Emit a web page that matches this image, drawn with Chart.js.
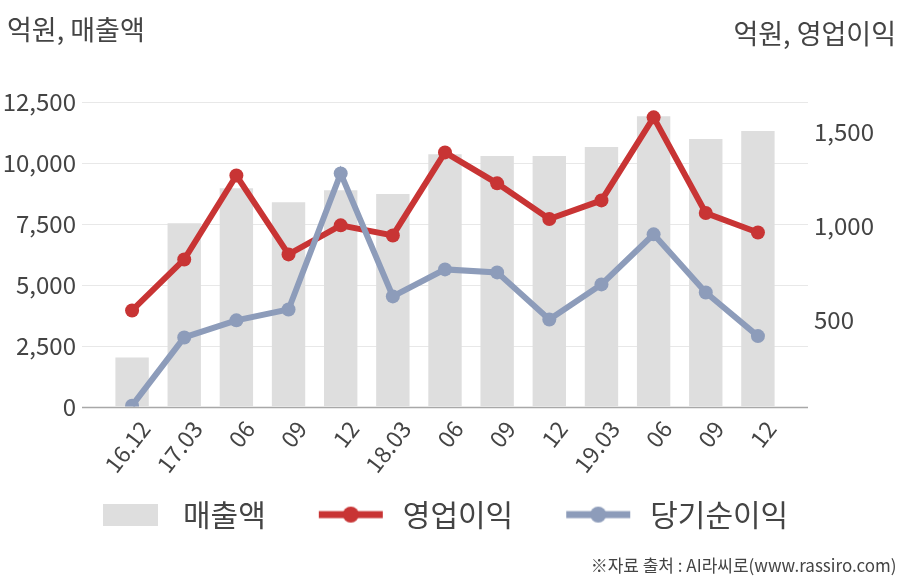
<!DOCTYPE html>
<html>
<head>
<meta charset="utf-8">
<script src="https://cdn.jsdelivr.net/npm/chart.js@4.4.1/dist/chart.umd.min.js"></script>
<style>
  html, body { margin: 0; padding: 0; background: #fff; }
  #wrap { width: 908px; height: 580px; }
</style>
</head>
<body>
<div id="wrap"><canvas id="finChart" width="908" height="580"></canvas></div>
<script>
// Quarter labels
const quarters = ['16.12', '17.03', '06', '09', '12', '18.03', '06', '09', '12', '19.03', '06', '09', '12'];

// 매출액 (left axis, 억원)
const sales = [2015, 7525, 8960, 8390, 8880, 8720, 10360, 10280, 10280, 10650, 11920, 10980, 11310];

// 영업이익 (right axis, 억원)
const opProfit = [548, 820, 1268, 847, 1002, 948, 1391, 1226, 1036, 1135, 1578, 1068, 964];

// 당기순이익 (right axis, 억원)
const netProfit = [40, 404, 495, 553, 1279, 623, 767, 751, 500, 687, 954, 644, 411];

// Right axis tick labels
const rightTicks = [500, 1000, 1500];

const FONT = "'Noto Sans CJK KR', 'Noto Sans', sans-serif";
const TEXT = '#444';
const BAR_COLOR = '#dedede';
const RED = '#c83434';
const BLUE = '#8d9cba';

// legend markers: each image is as wide as the legend box, marker sits at its right end
const MARK_W = 112;
function lineMarker(color) {
    const c = document.createElement('canvas');
    c.width = MARK_W; c.height = 20;
    const g = c.getContext('2d');
    const x0 = MARK_W - 5 - 64;
    g.strokeStyle = color;
    g.lineWidth = 7;
    g.beginPath(); g.moveTo(x0, 10); g.lineTo(x0 + 64, 10); g.stroke();
    g.fillStyle = color;
    g.beginPath(); g.arc(x0 + 32, 10, 8, 0, Math.PI * 2); g.fill();
    return c;
}
function boxMarker(color) {
    const c = document.createElement('canvas');
    c.width = MARK_W; c.height = 22;
    const g = c.getContext('2d');
    g.fillStyle = color;
    g.fillRect(MARK_W - 10 - 55, 0, 55, 22);
    return c;
}
const markers = [boxMarker(BAR_COLOR), lineMarker(RED), lineMarker(BLUE)];

// horizontal grid lines that run a bit past the plot on both sides
const wideGrid = {
    id: 'wideGrid',
    beforeDatasetsDraw(chart) {
        const { ctx, chartArea, scales } = chart;
        const ext = 24;
        ctx.save();
        scales.y.ticks.forEach(t => {
            const y = Math.round(scales.y.getPixelForValue(t.value)) + 0.5;
            ctx.strokeStyle = t.value === 0 ? '#a8a8a8' : '#e8e8e8';
            ctx.lineWidth = t.value === 0 ? 1.5 : 1;
            ctx.beginPath();
            ctx.moveTo(chartArea.left - ext, y);
            ctx.lineTo(chartArea.right + ext, y);
            ctx.stroke();
        });
        ctx.restore();
    }
};

// nudge the legend row so the first marker starts under the plot
const legendShift = {
    id: 'legendShift',
    afterLayout(chart) {
        const lg = chart.legend;
        if (!lg) return;
        const dx = 103 - (lg.left + 10 + (MARK_W - 65));
        lg.left += dx;
        lg.right += dx;
    }
};

// unit captions in the top corners
const unitText = {
    id: 'unitText',
    afterDraw(chart) {
        const { ctx } = chart;
        ctx.save();
        ctx.fillStyle = TEXT;
        ctx.font = '27px ' + FONT;
        ctx.textBaseline = 'middle';
        ctx.textAlign = 'left';
        ctx.fillText('억원, 매출액', 7, 30);
        ctx.textAlign = 'right';
        ctx.fillText('억원, 영업이익', 896, 34);
        ctx.restore();
    }
};

const ctx = document.getElementById('finChart').getContext('2d');

const data = {
    labels: quarters,
    datasets: [
        {
            type: 'bar',
            label: '매출액',
            data: sales,
            yAxisID: 'y',
            backgroundColor: BAR_COLOR,
            barPercentage: 0.64,
            categoryPercentage: 1.0,
            order: 2
        },
        {
            type: 'line',
            label: '영업이익',
            data: opProfit,
            yAxisID: 'y1',
            borderColor: RED,
            backgroundColor: RED,
            borderWidth: 6,
            pointRadius: 7,
            pointBackgroundColor: RED,
            pointBorderWidth: 0,
            tension: 0,
            order: 1
        },
        {
            type: 'line',
            label: '당기순이익',
            data: netProfit,
            yAxisID: 'y1',
            borderColor: BLUE,
            backgroundColor: BLUE,
            borderWidth: 6,
            pointRadius: 7,
            pointBackgroundColor: BLUE,
            pointBorderWidth: 0,
            tension: 0,
            order: 0
        }
    ]
};

const config = {
    data: data,
    options: {
        responsive: false,
        animation: false,
        layout: {
            padding: { top: 102, left: 0, right: 0, bottom: 4 }
        },
        scales: {
            x: {
                grid: { display: false, drawTicks: false },
                border: { display: false },
                ticks: {
                    color: TEXT,
                    font: { family: FONT, size: 23 },
                    minRotation: 52,
                    maxRotation: 52,
                    padding: 9,
                    labelOffset: 13,
                    autoSkip: false
                },
                afterFit(scale) { scale.height = 83; }
            },
            y: {
                position: 'left',
                min: 0,
                max: 12500,
                grid: { display: false, drawTicks: false },
                border: { display: false },
                ticks: {
                    stepSize: 2500,
                    color: TEXT,
                    font: { family: FONT, size: 24 },
                    padding: 30,
                    callback: v => v.toLocaleString('en-US')
                },
                afterFit(scale) { scale.width = 106; }
            },
            y1: {
                position: 'right',
                min: 35,
                max: 1660,
                grid: { display: false, drawTicks: false },
                border: { display: false },
                afterBuildTicks(axis) {
                    axis.ticks = rightTicks.map(v => ({ value: v }));
                },
                ticks: {
                    color: TEXT,
                    font: { family: FONT, size: 24 },
                    padding: 30,
                    callback: v => v.toLocaleString('en-US')
                },
                afterFit(scale) { scale.width = 124; }
            }
        },
        plugins: {
            legend: {
                position: 'bottom',
                align: 'start',
                labels: {
                    color: TEXT,
                    font: { family: FONT, size: 30 },
                    usePointStyle: true,
                    pointStyleWidth: MARK_W,
                    padding: 10,
                    sort: (a, b) => a.datasetIndex - b.datasetIndex,
                    generateLabels(chart) {
                        return chart.data.datasets.map((ds, i) => ({
                            text: ds.label,
                            fontColor: TEXT,
                            pointStyle: markers[i],
                            datasetIndex: i,
                            hidden: false,
                            lineWidth: 0
                        }));
                    }
                }
            },
            subtitle: {
                display: true,
                position: 'bottom',
                align: 'end',
                text: '※자료 출처 : AI라씨로(www.rassiro.com)   ',
                color: TEXT,
                font: { family: FONT, size: 17, weight: 'normal' },
                padding: { top: 16, bottom: 0 }
            },
            tooltip: { enabled: false }
        }
    },
    plugins: [wideGrid, legendShift, unitText]
};

const finChart = new Chart(ctx, config);
</script>
</body>
</html>
